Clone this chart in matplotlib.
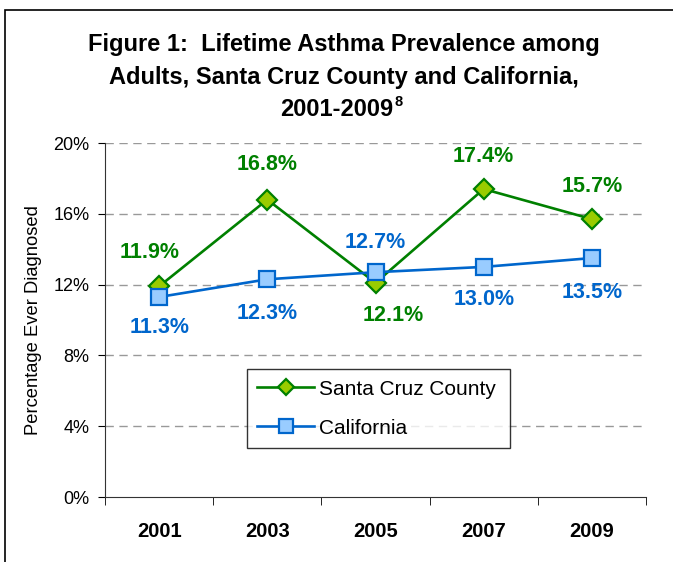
import matplotlib
matplotlib.use("Agg")
import matplotlib.pyplot as plt
from matplotlib.patches import Rectangle
from matplotlib.ticker import FixedLocator

plt.rcParams['font.family'] = ['Liberation Sans', 'DejaVu Sans']

years = ['2001', '2003', '2005', '2007', '2009']
santa_cruz = [11.9, 16.8, 12.1, 17.4, 15.7]
california = [11.3, 12.3, 12.7, 13.0, 13.5]
y_ticks = [0, 4, 8, 12, 16, 20]

# label offsets in pixels (dx, dy)
sc_off = [(-9, 34), (0, 35), (18, -33), (0, 33), (0, 33)]
ca_off = [(1, -31), (0, -34), (0, 30), (0, -33), (0, -34)]

green = '#008000'
blue = '#0066CC'

fig = plt.figure(figsize=(6.73, 5.62), dpi=100)
ax = fig.add_axes([105/673, 1-497/562, 541/673, 354/562])

x = list(range(len(years)))
l1, = ax.plot(x, santa_cruz, color=green, lw=1.9, marker='D', ms=10,
              mfc='#99CC00', mec=green, mew=1.6, label='Santa Cruz County', zorder=3)
l2, = ax.plot(x, california, color=blue, lw=1.9, marker='s', ms=12,
              mfc='#99CCFF', mec=blue, mew=1.6, label='California', zorder=4)

for xi, v, off in zip(x, santa_cruz, sc_off):
    ax.annotate(f'{v:.1f}%', (xi, v), xytext=off, textcoords='offset pixels',
                ha='center', va='center', color=green, fontsize=15.5, fontweight='bold')
for xi, v, off in zip(x, california, ca_off):
    ax.annotate(f'{v:.1f}%', (xi, v), xytext=off, textcoords='offset pixels',
                ha='center', va='center', color=blue, fontsize=15.5, fontweight='bold')

ax.set_xlim(-0.5, len(years) - 0.5)
ax.set_ylim(0, 20)
ax.set_yticks(y_ticks)
ax.set_yticklabels([f'{t}%' for t in y_ticks], fontsize=13)
ax.set_xticks(x)
ax.set_xticklabels(years, fontsize=14.5, fontweight='bold')
ax.tick_params(axis='x', which='major', length=0, pad=18)
ax.xaxis.set_minor_locator(FixedLocator([i - 0.5 for i in range(len(years) + 1)]))
ax.tick_params(axis='x', which='minor', length=6, direction='out')
ax.tick_params(axis='y', length=5, direction='out', pad=6)

for t in y_ticks[1:]:
    ax.axhline(t, color='#999999', lw=1, ls=(0, (6, 4)), zorder=1)

for s in ['top', 'right']:
    ax.spines[s].set_visible(False)
ax.spines['left'].set_color('#333333')
ax.spines['bottom'].set_color('#333333')

ax.set_ylabel('Percentage Ever Diagnosed', fontsize=13.2, labelpad=8)

leg = ax.legend(handles=[l1, l2], loc='lower left',
                bbox_to_anchor=((247-105)/541, (497-448)/354, 263/541, 81/354),
                mode='expand', fontsize=15, frameon=True, fancybox=False,
                edgecolor='black', borderpad=0.5, labelspacing=0.95,
                borderaxespad=0, handlelength=2.7, handletextpad=0.25,
                markerscale=0.85)
leg.get_frame().set_linewidth(1)

tkw = dict(ha='center', va='center', fontsize=17, fontweight='bold')
fig.text(344/673, 1-45/562, 'Figure 1:  Lifetime Asthma Prevalence among', **tkw)
fig.text(344/673, 1-77/562, 'Adults, Santa Cruz County and California,', **tkw)
t3 = fig.text(337/673, 1-110/562, '2001-2009', **tkw)
fig.canvas.draw()
bb = t3.get_window_extent()
fig.text(bb.x1 + 1, bb.y1 - 4, '8', ha='left', va='center',
         fontsize=10.5, fontweight='bold', transform=None)

fig.patches.append(Rectangle((5/673, -0.1), 1.2, (1-10/562) + 0.1,
                             transform=fig.transFigure, fill=False,
                             edgecolor='black', lw=1.2))

fig.savefig('out.png', dpi=100)
